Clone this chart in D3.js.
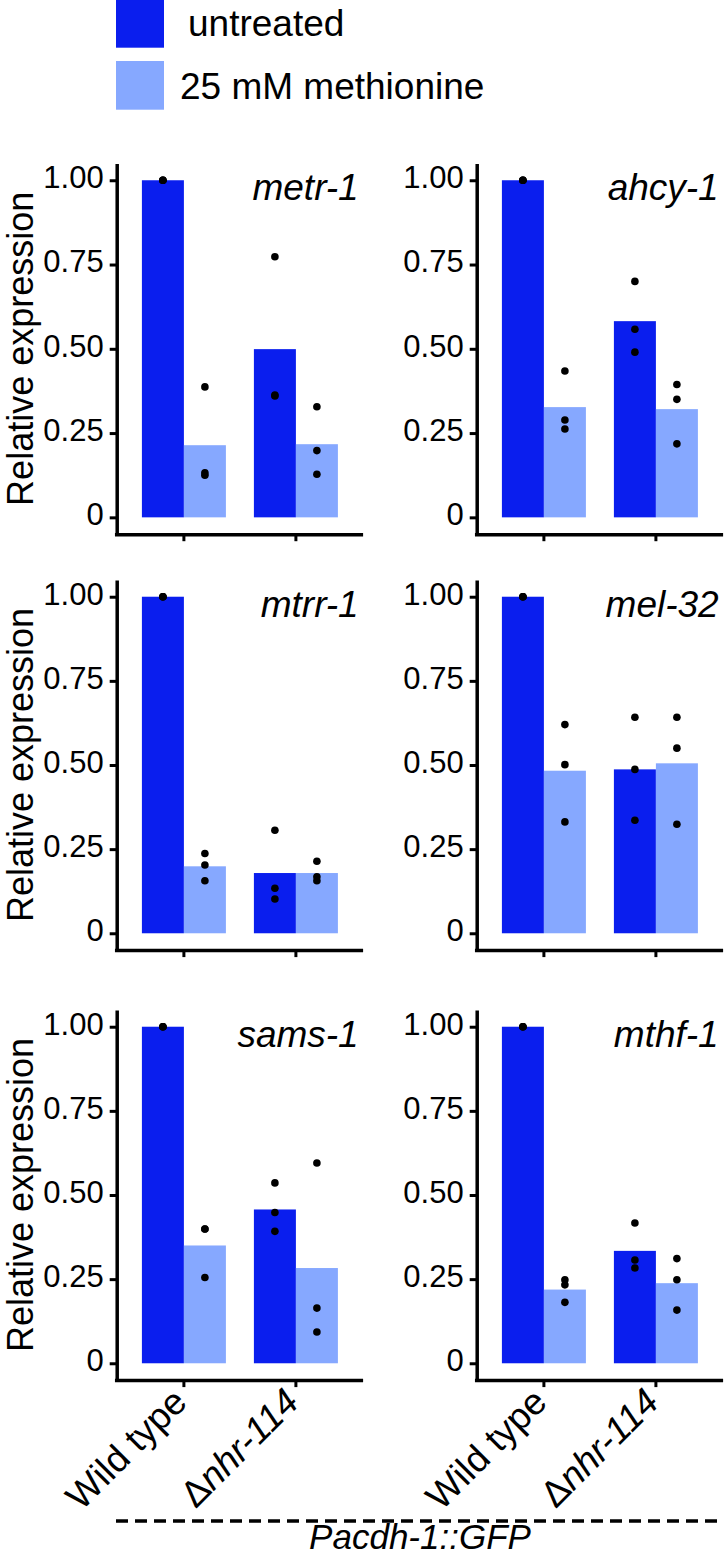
<!DOCTYPE html>
<html><head><meta charset="utf-8">
<script src="https://cdn.jsdelivr.net/npm/d3@7"></script>
<style>
html,body{margin:0;padding:0;background:#fff;}
svg{display:block;font-family:"Liberation Sans",Arial,Helvetica,sans-serif;}
</style></head>
<body>
<svg id="chart" width="724" height="1557"></svg>
<script>
// ---- data ----
const genes = ["metr-1", "ahcy-1", "mtrr-1", "mel-32", "sams-1", "mthf-1"];
const groups = ["Wild type", "Δnhr-114"];
const treatments = ["untreated", "25 mM methionine"];
const yTicks = [0, 0.25, 0.5, 0.75, 1.0];
const yTickLabels = ["0", "0.25", "0.50", "0.75", "1.00"];

// bar heights (means), one entry per gene
const wtUntreated  = [1.00, 1.00, 1.00, 1.00, 1.00, 1.00];
const wtMethionine = [0.214, 0.327, 0.199, 0.483, 0.350, 0.219];
const nhrUntreated = [0.499, 0.582, 0.179, 0.487, 0.457, 0.334];
const nhrMethionine= [0.217, 0.321, 0.179, 0.505, 0.283, 0.238];

// replicate points, one entry per gene (3 replicates)
const wtUntreatedPts  = [[1,1,1],[1,1,1],[1,1,1],[1,1,1],[1,1,1],[1,1,1]];
const wtMethioninePts = [[0.387,0.132,0.125],[0.434,0.289,0.262],[0.237,0.203,0.156],[0.620,0.501,0.331],[0.399,0.399,0.255],[0.248,0.233,0.181]];
const nhrUntreatedPts = [[0.773,0.363,0.360],[0.700,0.558,0.490],[0.306,0.134,0.102],[0.642,0.487,0.336],[0.536,0.448,0.392],[0.417,0.307,0.283]];
const nhrMethioninePts= [[0.328,0.198,0.128],[0.394,0.350,0.218],[0.214,0.168,0.156],[0.642,0.550,0.324],[0.595,0.164,0.093],[0.311,0.248,0.158]];

const colors = ["#0A1EEE", "#86A8FF"];

// ---- layout ----
const svg = d3.select("#chart");
const colX = [116.7, 476.7];
const panelW = 246.4;
const rowTop = [163.4, 579.9, 1009.9];
const rowBottom = [534.2, 950.1, 1380.1];

const color = d3.scaleOrdinal().domain(treatments).range(colors);

genes.forEach((gene, gi) => {
  const col = gi % 2, row = Math.floor(gi / 2);
  const x0 = colX[col];
  const g = svg.append("g");

  const x = d3.scaleBand().domain(groups).range([x0, x0 + panelW])
    .paddingInner(0.25).paddingOuter(0.225);
  const xs = d3.scaleBand().domain(treatments).range([0, x.bandwidth()]).padding(0);
  const y = d3.scaleLinear().domain([-0.05, 1.05]).range([rowBottom[row], rowTop[row]]);

  const bars = [
    {grp: groups[0], trt: treatments[0], v: wtUntreated[gi], pts: wtUntreatedPts[gi]},
    {grp: groups[0], trt: treatments[1], v: wtMethionine[gi], pts: wtMethioninePts[gi]},
    {grp: groups[1], trt: treatments[0], v: nhrUntreated[gi], pts: nhrUntreatedPts[gi]},
    {grp: groups[1], trt: treatments[1], v: nhrMethionine[gi], pts: nhrMethioninePts[gi]}
  ];

  g.selectAll("rect.bar").data(bars).join("rect")
    .attr("class", "bar")
    .attr("x", d => x(d.grp) + xs(d.trt))
    .attr("width", xs.bandwidth())
    .attr("y", d => y(d.v))
    .attr("height", d => y(0) - y(d.v))
    .attr("fill", d => color(d.trt));

  const pts = bars.flatMap(d => d.pts.map(p => ({grp: d.grp, trt: d.trt, p})));
  g.selectAll("circle.pt").data(pts).join("circle")
    .attr("class", "pt")
    .attr("cx", d => x(d.grp) + xs(d.trt) + xs.bandwidth() / 2)
    .attr("cy", d => y(d.p))
    .attr("r", 3.8)
    .attr("fill", "#000");

  // y axis
  const ya = g.append("g").attr("transform", `translate(${x0},0)`)
    .call(d3.axisLeft(y).tickValues(yTicks).tickFormat((d, i) => yTickLabels[i])
      .tickSize(7).tickSizeOuter(0).tickPadding(6));
  ya.select(".domain").attr("stroke", "#000").attr("stroke-width", 3.5);
  ya.selectAll(".tick line").attr("stroke", "#000").attr("stroke-width", 3);
  ya.selectAll(".tick text").attr("font-size", 31).attr("fill", "#000")
    .attr("font-family", "Liberation Sans, Arial, sans-serif").attr("dy", "0.24em");

  // x axis
  const xa = g.append("g").attr("transform", `translate(0,${rowBottom[row]})`)
    .call(d3.axisBottom(x).tickSize(7).tickSizeOuter(0).tickFormat(""));
  xa.select(".domain").attr("stroke", "#000").attr("stroke-width", 3.5)
    .attr("d", `M${x0 - 1.75},0.5H${x0 + panelW}`);
  xa.selectAll(".tick line").attr("stroke", "#000").attr("stroke-width", 3);

  if (row === 2) {
    groups.forEach((grp, k) => {
      const tx = x(grp) + x.bandwidth() / 2 + 5;
      const ty = rowBottom[row] + 24;
      const t = g.append("text")
        .attr("transform", `translate(${tx},${ty}) rotate(-45)`)
        .attr("text-anchor", "end")
        .attr("font-size", 37).attr("fill", "#000");
      if (k === 0) {
        t.text(grp);
      } else {
        t.append("tspan").attr("font-style", "normal").text(grp.slice(0, 1));
        t.append("tspan").attr("font-style", "italic").text(grp.slice(1));
      }
    });
  }

  // gene label
  g.append("text")
    .attr("x", x0 + 242).attr("y", y(1) + 20)
    .attr("text-anchor", "end").attr("font-style", "italic")
    .attr("font-size", 37).attr("fill", "#000").text(gene);

  // y title
  if (col === 0) {
    g.append("text")
      .attr("transform", `translate(33,${(rowTop[row] + rowBottom[row]) / 2}) rotate(-90)`)
      .attr("text-anchor", "middle").attr("font-size", 36).attr("fill", "#000")
      .text("Relative expression");
  }
});

// legend
const legend = svg.append("g");
treatments.forEach((t, i) => {
  legend.append("rect").attr("x", 116).attr("y", i * 62 - 1).attr("width", 48).attr("height", 48.7)
    .attr("fill", color(t));
  legend.append("text").attr("x", i === 0 ? 188 : 180).attr("y", i === 0 ? 36 : 99.3)
    .attr("font-size", 37).attr("fill", "#000").text(t);
});

// bottom dashed line + reporter label
svg.append("line").attr("x1", 116).attr("x2", 724).attr("y1", 1521).attr("y2", 1521)
  .attr("stroke", "#000").attr("stroke-width", 3.5).attr("stroke-dasharray", "12,7");
svg.append("text").attr("x", 420).attr("y", 1549).attr("text-anchor", "middle")
  .attr("font-style", "italic").attr("font-size", 35).attr("fill", "#000").text("Pacdh-1::GFP");
</script>
</body></html>
